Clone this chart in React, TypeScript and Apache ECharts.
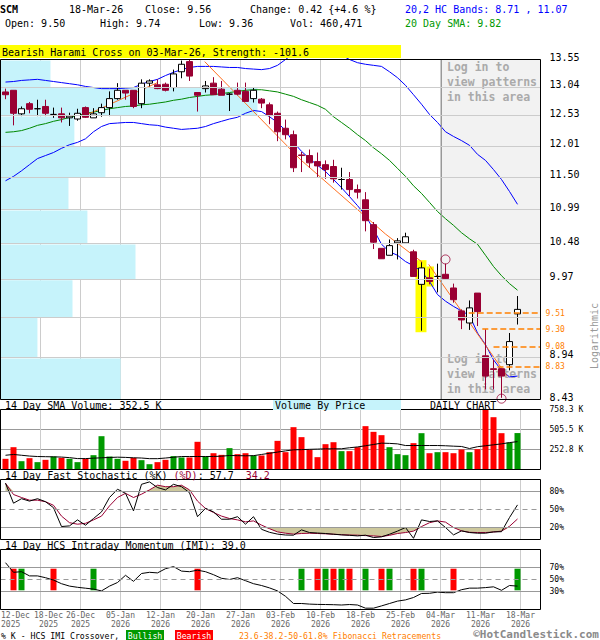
import React, { useEffect, useRef } from "react";
import * as echarts from "echarts";

const MONO = "'DejaVu Sans Mono', monospace";
const CRIMSON = "#990033";
const UP_GREEN = "#009900";
const DOWN_RED = "#ff0000";
const ORANGE = "#ff8000";
const TAN = "#cdc89c";
const CYAN = "#c6f3fb";

const ticker = "SCM";

const dates = [
  "12-Dec-2025", "15-Dec-2025", "16-Dec-2025", "17-Dec-2025", "18-Dec-2025", "19-Dec-2025", "22-Dec-2025", "23-Dec-2025", "24-Dec-2025", "26-Dec-2025",
  "29-Dec-2025", "30-Dec-2025", "31-Dec-2025", "02-Jan-2026", "05-Jan-2026", "06-Jan-2026", "07-Jan-2026", "08-Jan-2026", "09-Jan-2026", "12-Jan-2026",
  "13-Jan-2026", "14-Jan-2026", "15-Jan-2026", "16-Jan-2026", "20-Jan-2026", "21-Jan-2026", "22-Jan-2026", "23-Jan-2026", "26-Jan-2026", "27-Jan-2026",
  "28-Jan-2026", "29-Jan-2026", "30-Jan-2026", "02-Feb-2026", "03-Feb-2026", "04-Feb-2026", "05-Feb-2026", "06-Feb-2026", "09-Feb-2026", "10-Feb-2026",
  "11-Feb-2026", "12-Feb-2026", "13-Feb-2026", "17-Feb-2026", "18-Feb-2026", "19-Feb-2026", "20-Feb-2026", "23-Feb-2026", "24-Feb-2026", "25-Feb-2026",
  "26-Feb-2026", "27-Feb-2026", "02-Mar-2026", "03-Mar-2026", "04-Mar-2026", "05-Mar-2026", "06-Mar-2026", "09-Mar-2026", "10-Mar-2026", "11-Mar-2026",
  "12-Mar-2026", "13-Mar-2026", "16-Mar-2026", "17-Mar-2026", "18-Mar-2026",
];

const opens = [
  12.95, 12.98, 12.56, 12.74, 12.65, 12.69, 12.55, 12.56, 12.49, 12.47,
  12.67, 12.49, 12.58, 12.67, 12.83, 12.98, 12.98, 12.74, 13.11, 13.08,
  13.09, 13.03, 13.32, 13.51, 12.94, 13.01, 13.11, 13.0, 12.91, 12.98,
  12.96, 12.83, 12.82, 12.72, 12.57, 12.31, 12.2, 11.86, 11.85, 11.75,
  11.7, 11.67, 11.46, 11.46, 11.3, 11.14, 10.76, 10.41, 10.31, 10.49,
  10.49, 10.36, 9.9, 9.99, 10.01, 10.04, 9.85, 9.54, 9.38, 9.78,
  8.96, 8.8, 8.8, 8.85, 9.5,
];
const highs = [
  13.01, 12.98, 12.69, 12.77, 12.81, 12.81, 12.67, 12.67, 12.58, 12.65,
  12.69, 12.66, 12.74, 12.96, 13.11, 12.98, 12.98, 13.18, 13.18, 13.18,
  13.12, 13.36, 13.53, 13.55, 12.94, 13.15, 13.22, 13.15, 12.93, 13.12,
  13.12, 13.03, 12.84, 12.76, 12.6, 12.46, 12.27, 11.91, 11.95, 11.9,
  11.77, 11.78, 11.65, 11.58, 11.38, 11.26, 10.8, 10.41, 10.54, 10.56,
  10.64, 10.39, 10.21, 10.12, 10.19, 10.19, 9.91, 9.56, 9.68, 9.78,
  9.3, 8.91, 8.8, 9.25, 9.74,
];
const lows = [
  12.82, 12.36, 12.52, 12.57, 12.52, 12.52, 12.49, 12.41, 12.35, 12.44,
  12.49, 12.49, 12.51, 12.52, 12.81, 12.81, 12.66, 12.66, 13.05, 13.0,
  12.96, 12.96, 13.2, 13.15, 12.6, 12.94, 12.9, 12.89, 12.61, 12.89,
  12.78, 12.76, 12.66, 12.38, 12.09, 12.12, 11.58, 11.58, 11.65, 11.5,
  11.47, 11.41, 11.3, 11.2, 11.16, 10.66, 10.4, 10.26, 10.31, 10.25,
  10.49, 10.01, 9.28, 9.9, 9.79, 9.97, 9.65, 9.3, 9.29, 9.34,
  8.55, 8.55, 8.45, 8.78, 9.36,
];
const closes = [
  12.9, 12.57, 12.65, 12.64, 12.65, 12.57, 12.55, 12.49, 12.52, 12.57,
  12.5, 12.56, 12.67, 12.83, 12.98, 12.93, 12.69, 13.11, 13.15, 13.01,
  12.98, 13.28, 13.46, 13.24, 12.89, 13.06, 12.9, 12.89, 12.91, 12.91,
  12.78, 12.98, 12.75, 12.53, 12.25, 12.2, 11.65, 11.85, 11.73, 11.68,
  11.62, 11.47, 11.46, 11.3, 11.26, 10.82, 10.5, 10.26, 10.45, 10.52,
  10.58, 10.01, 10.13, 9.94, 10.01, 9.98, 9.69, 9.42, 9.58, 9.53,
  8.71, 8.79, 8.71, 9.14, 9.56,
];

// daily volume, thousands of shares
const volumes = [
  135, 282, 105, 143, 93, 122, 164, 147, 135, 93,
  135, 181, 421, 164, 135, 110, 147, 118, 67, 93,
  122, 169, 152, 152, 350, 164, 206, 185, 270, 194,
  206, 177, 177, 219, 362, 219, 535, 409, 249, 156,
  320, 345, 232, 232, 282, 548, 476, 434, 282, 194,
  181, 333, 459, 206, 219, 219, 206, 253, 219, 257,
  754, 661, 459, 341, 460.471,
];
const volumeSma14 = [
  180, 190, 180, 170, 164, 162, 160, 157, 150, 138,
  138, 143, 148, 152, 156, 153, 148, 145, 137, 137,
  145, 155, 164, 164, 164, 164, 165, 168, 177, 175,
  173, 175, 190, 205, 220, 235, 249, 251, 255, 258,
  261, 261, 262, 275, 285, 300, 316, 333, 330, 324,
  303, 303, 303, 303, 303, 300, 295, 291, 265, 288,
  300, 312, 324, 340, 352.5,
];

const upperBand = [
  13.13, 13.14, 13.16, 13.17, 13.18, 13.16, 13.14, 13.12, 13.1, 13.08,
  13.05, 13.03, 13.01, 13.01, 13.01, 13.02, 13.03, 13.09, 13.14, 13.18,
  13.25, 13.31, 13.36, 13.4, 13.42, 13.42, 13.42, 13.41, 13.4, 13.4,
  13.38, 13.37, 13.36, 13.38, 13.44, 13.55, 13.66, 13.74, 13.78, 13.78,
  13.76, 13.7, 13.63, 13.55, 13.49, 13.46, 13.44, 13.42, 13.32, 13.21,
  13.07, 12.9, 12.73, 12.55, 12.41, 12.25, 12.17, 12.1, 12.02, 11.87,
  11.77, 11.62, 11.46, 11.27, 11.07,
];
const lowerBand = [
  11.44, 11.51, 11.6, 11.7, 11.8, 11.85, 11.9, 11.97, 12.03, 12.07,
  12.13, 12.25, 12.34, 12.39, 12.4, 12.41, 12.41, 12.39, 12.37, 12.36,
  12.33, 12.31, 12.29, 12.3, 12.31, 12.34, 12.39, 12.43, 12.47, 12.5,
  12.57, 12.62, 12.6, 12.51, 12.41, 12.27, 12.07, 11.92, 11.8, 11.69,
  11.59, 11.46, 11.33, 11.19, 11.05, 10.9, 10.69, 10.47, 10.36, 10.31,
  10.22, 10.16, 10.08, 9.94, 9.76, 9.67, 9.6, 9.54, 9.48, 9.25,
  9.1, 8.91, 8.78, 8.7, 8.71,
];
const sma20 = [
  12.24, 12.25, 12.27, 12.31, 12.36, 12.39, 12.43, 12.46, 12.5, 12.53,
  12.57, 12.59, 12.62, 12.65, 12.67, 12.69, 12.7, 12.72, 12.73, 12.75,
  12.77, 12.8, 12.82, 12.85, 12.87, 12.89, 12.9, 12.92, 12.94, 12.96,
  12.98, 12.99, 12.99, 12.97, 12.95, 12.91, 12.87, 12.81, 12.76, 12.71,
  12.64, 12.51, 12.41, 12.31, 12.2, 12.1, 11.98, 11.88, 11.77, 11.64,
  11.51, 11.36, 11.24, 11.1, 10.96, 10.85, 10.75, 10.64, 10.55, 10.47,
  10.31, 10.15, 10.02, 9.91, 9.82,
];

const stochK = [
  93.8, 60.5, 68, 64, 68, 63, 53, 21.6, 22.7, 32.7,
  23.8, 35, 46, 70, 83.8, 77, 47.7, 92, 96, 86.6,
  82.7, 92, 88, 78, 38, 52, 46, 33.8, 33.8, 38,
  25.5, 38, 17, 12, 9, 7.5, 7.2, 16, 11.6, 10.8,
  10, 8.8, 7.7, 7, 6, 7.2, 3.3, 4.4, 8.8, 14,
  20, 2, 32.7, 30, 31, 20, 7.7, 14.4, 11.6, 10.5,
  10.5, 12.7, 13, 36.6, 57.7,
];
const stochD = [
  93.8, 75, 70, 65.5, 65.5, 63, 57, 39, 28, 25.5,
  27, 32.7, 39, 56, 70, 77, 70, 75.5, 82.7, 90.5,
  88, 88, 90.5, 82.7, 64, 51.6, 45, 39, 35, 32.7,
  29.4, 31, 24, 18, 12.7, 10.5, 9, 10, 10.5, 10,
  9.5, 8.8, 8, 7.5, 7.2, 6.5, 6, 5, 7, 10,
  11.6, 14, 21.6, 28, 31, 29, 20, 14.4, 12, 11.6,
  11.6, 12.5, 14, 22, 34.2,
];
const imi = [
  78, 62, 63, 56, 56, 53, 49, 43, 39, 37,
  35.5, 34, 31, 39, 45, 57, 47, 60, 62, 61,
  68, 71.5, 64, 63, 65.5, 63, 58, 52, 50, 53,
  48, 43, 40, 36, 31, 22, 10, 10, 9, 8.5,
  8.3, 8, 7.5, 8.3, 7.5, 2.2, 2.2, 6, 10, 14,
  16, 20, 26.7, 27, 29, 28, 28, 33, 35.6, 35.6,
  36.5, 37.8, 32, 40, 39,
];
const imiBullishCross = [2, 11, 37, 40, 42, 45, 48, 52, 64];
const imiBearishCross = [1, 6, 24, 39, 41, 43, 47, 51, 56];

const priceTicks = [13.55, 13.04, 12.53, 12.01, 11.5, 10.99, 10.48, 9.97, 9.46, 8.94, 8.43];
const hiddenPriceTickLabels = [9.46];
const fibLevels = [9.51, 9.3, 9.08, 8.83];
const fibStartDay = [57.9, 59.6, 61.0, 61.5];
const vbpEdges = [13.55, 13.04, 12.53, 12.01, 11.5, 10.99, 10.48, 9.97, 9.46, 8.94, 8.43];
const vbpVolume = [805, 4140, 1190, 1690, 1095, 1400, 2175, 1160, 595, 1935];
const trendUp = [[9.8, 12.52], [19, 13.12]];
const trendDown1 = [[24.9, 13.51], [36.9, 11.78], [47.5, 10.62], [52.1, 10.21]];
const trendDown2 = [[52.9, 10.18], [62.7, 8.71]];
const patternMarkers = [[55, 10.25], [62, 8.44]];
const haramiBoxes = [
  { from: 51.25, to: 52.62, high: 10.24, low: 9.26 },
  { from: 52.62, to: 53.55, high: 10.15, low: 9.87 },
];
const patternZoneStartDay = 54.5;

const X = (i: number) => i + 0.625;
const X_MAX = 67.5;
const N = closes.length;
const last = N - 1;

function txt(text: string, x: number, y: number, o: any = {}) {
  return {
    type: "text",
    x,
    y,
    z: o.z ?? 10,
    rotation: o.rotation ?? 0,
    style: {
      text,
      fill: o.fill ?? "#000",
      fontSize: o.size ?? 10,
      fontFamily: MONO,
      fontWeight: o.weight ?? "normal",
      align: o.align ?? "left",
      verticalAlign: "middle",
      lineHeight: o.lineHeight,
      rich: o.rich,
    },
  };
}

function buildOption(): any {
  const xBase = (gridIndex: number) => ({
    type: "value",
    gridIndex,
    min: 0,
    max: X_MAX,
    interval: 5,
    z: 1,
    axisLine: { show: false },
    axisTick: { show: false },
    axisLabel: { show: false },
    splitLine: { show: true, lineStyle: { color: "#cccccc", width: 1 } },
  });
  const gridBase = { show: true, borderColor: "#000", borderWidth: 1, z: 6, left: 0.5, width: 540 };

  const helper = (xi: number, yi: number, extra: any) => ({
    type: "line",
    xAxisIndex: xi,
    yAxisIndex: yi,
    data: [],
    showSymbol: false,
    silent: true,
    clip: false,
    lineStyle: { opacity: 0 },
    ...extra,
  });

  const hLines = (values: number[], dashedAt: number | null, xi: number, yi: number) =>
    helper(xi, yi, {
      z: 1,
      markLine: {
        silent: true,
        symbol: ["none", "none"],
        animation: false,
        label: {
          show: true,
          position: "end",
          distance: 9,
          color: "#000",
          fontSize: 8,
          fontFamily: MONO,
          formatter: (p: any) => `${p.value}%`,
        },
        data: values.map((v) => ({
          yAxis: v,
          lineStyle: { color: "#999999", width: 1, type: v === dashedAt ? [5, 4] : "solid" },
        })),
      },
    });

  const candleData = opens.map((o, i) => {
    const v = [X(i), o, closes[i], lows[i], highs[i]];
    if (o === closes[i]) {
      return { value: v, itemStyle: { color: "#000", color0: "#000", borderColor: "#000", borderColor0: "#000" } };
    }
    return v;
  });

  const lineSeries = (data: number[], color: string, extra: any = {}) => ({
    type: "line",
    xAxisIndex: 0,
    yAxisIndex: 0,
    data: data.map((v, i) => [X(i), v]),
    showSymbol: false,
    symbol: "none",
    silent: true,
    lineStyle: { color, width: 1 },
    z: 3,
    ...extra,
  });

  const trend = (pts: number[][]) => ({
    type: "line",
    xAxisIndex: 0,
    yAxisIndex: 0,
    data: pts.map((p) => [X(p[0]), p[1]]),
    showSymbol: false,
    symbol: "none",
    silent: true,
    lineStyle: { color: "#ff7020", width: 1 },
    z: 3.1,
  });

  const vbpMax = 8700;
  const DATE_GRAY = "#666666";
  const DATE_SIZE = 8;

  const dateLabel = (v: number) => {
    const r = Math.round(v);
    if (Math.abs(v - r) > 1e-6 || r % 5 !== 0 || r === 0) return "";
    const i = r - 1;
    const d = dates[i];
    if (!d) return "";
    // the second label is nudged right so that it clears the first one
    if (r === 5) return `{n|${d.slice(0, 6)}}\n{n|${d.slice(7)}}`;
    return `${d.slice(0, 6)}\n${d.slice(7)}`;
  };

  const change = closes[last] - closes[last - 1];
  const pct = (change / closes[last - 1]) * 100;
  const shortDate = dates[last].slice(0, 7) + dates[last].slice(9);

  const graphic: any[] = [
    txt(ticker, 0, 9, { weight: "bold" }),
    txt(shortDate, 69, 9),
    txt(`Close: ${closes[last].toFixed(2)}`, 145, 9),
    txt(`Change: ${change.toFixed(2)} {+${pct.toFixed(1)} %}`, 250, 9),
    txt(`20,2 HC Bands: ${lowerBand[last].toFixed(2)} , ${upperBand[last].toFixed(2)}`, 405, 9, { fill: "#0000ff" }),
    txt(`Open: ${opens[last].toFixed(2)}`, 5, 23),
    txt(`High: ${highs[last].toFixed(2)}`, 100, 23),
    txt(`Low: ${lows[last].toFixed(2)}`, 199, 23),
    txt(`Vol: ${Math.round(volumes[last] * 1000).toLocaleString("en-US")}`, 290, 23),
    txt(`20 Day SMA: ${sma20[last].toFixed(2)}`, 405, 23, { fill: UP_GREEN }),
    { type: "rect", z: 9, shape: { x: 0, y: 45, width: 401, height: 13 }, style: { fill: "#ffff00" } },
    txt("Bearish Harami Cross on 03-Mar-26, Strength: -101.6", 2, 52, {}),
    // pattern zone notes
    txt("Log in to", 447, 67, { fill: "#aaaaaa", weight: "bold", size: 11.5, z: 2.5 }),
    txt("view patterns", 447, 82, { fill: "#aaaaaa", weight: "bold", size: 11.5, z: 2.5 }),
    txt("in this area", 447, 97, { fill: "#aaaaaa", weight: "bold", size: 11.5, z: 2.5 }),
    txt("Log in to", 447, 359, { fill: "#aaaaaa", weight: "bold", size: 11.5, z: 2.5 }),
    txt("view patterns", 447, 374, { fill: "#aaaaaa", weight: "bold", size: 11.5, z: 2.5 }),
    txt("in this area", 447, 389, { fill: "#aaaaaa", weight: "bold", size: 11.5, z: 2.5 }),
    txt("Logarithmic", 594, 336, { fill: "#999999", align: "center", rotation: Math.PI / 2 }),
    // panel captions
    txt(`14 Day SMA Volume: ${volumeSma14[last].toFixed(1)} K`, 5, 405),
    { type: "rect", z: 9, shape: { x: 273, y: 400, width: 128, height: 10 }, style: { fill: CYAN } },
    txt("Volume By Price", 275, 405),
    txt("DAILY CHART", 430, 405),
    txt(`14 Day Fast Stochastic (%K) {d|(%D)}: ${stochK[last].toFixed(1)}  {d|${stochD[last].toFixed(1)}}`, 5, 475, {
      rich: { d: { fill: CRIMSON, color: CRIMSON, fontSize: 10, fontFamily: MONO } },
    }),
    txt(`14 Day HCS Intraday Momentum (IMI): ${imi[last].toFixed(1)}`, 5, 545),
    // first date label (left aligned at the panel edge)
    txt(`${dates[0].slice(0, 6)}\n${dates[0].slice(7)}`, 1, 620, { fill: DATE_GRAY, size: DATE_SIZE, lineHeight: 9 }),
    // footer legend
    txt("% K - HCS IMI Crossover,", 1, 635.5, { size: 8.2, lineHeight: 9 }),
    { type: "rect", z: 9, shape: { x: 126, y: 630, width: 38, height: 10 }, style: { fill: UP_GREEN } },
    txt("Bullish", 145, 635.5, { fill: "#fff", size: 8.2, align: "center", lineHeight: 9 }),
    { type: "rect", z: 9, shape: { x: 175, y: 630, width: 38, height: 10 }, style: { fill: DOWN_RED } },
    txt("Bearish", 194, 635.5, { fill: "#fff", size: 8.2, align: "center", lineHeight: 9 }),
    txt("23.6-38.2-50-61.8% Fibonacci Retracements", 239, 635.5, { fill: ORANGE, size: 8.2, lineHeight: 9 }),
    txt("\u00a9HotCandlestick.com", 599, 634, { fill: "#8a8a8a", size: 11, weight: "bold", align: "right", lineHeight: 9 }),
  ];

  return {
    animation: false,
    backgroundColor: "#fff",
    grid: [
      { ...gridBase, top: 59.5, height: 340 },
      { ...gridBase, top: 409.5, height: 60 },
      { ...gridBase, top: 479.5, height: 60 },
      { ...gridBase, top: 549.5, height: 60 },
    ],
    xAxis: [
      xBase(0),
      { type: "value", gridIndex: 0, min: 0, max: vbpMax, show: false },
      xBase(1),
      xBase(2),
      {
        ...xBase(3),
        axisLabel: {
          show: true,
          formatter: dateLabel,
          color: DATE_GRAY,
          fontSize: DATE_SIZE,
          lineHeight: 9,
          fontFamily: MONO,
          margin: 1.5,
          showMinLabel: false,
          showMaxLabel: false,
          hideOverlap: false,
          rich: {
            n: { color: DATE_GRAY, fontSize: DATE_SIZE, fontFamily: MONO, lineHeight: 9, padding: [0, 0, 0, 16] },
          },
        },
      },
    ],
    yAxis: [
      {
        type: "log",
        gridIndex: 0,
        logBase: 10,
        min: vbpEdges[vbpEdges.length - 1],
        max: vbpEdges[0],
        axisLine: { show: false },
        axisTick: { show: false },
        axisLabel: { show: false },
        splitLine: { show: false },
      },
      {
        type: "value",
        gridIndex: 1,
        min: 0,
        max: 758.3,
        interval: 758.3 / 3,
        position: "right",
        z: 1,
        axisLine: { show: false },
        axisTick: { show: false },
        splitLine: { show: true, lineStyle: { color: "#999999" } },
        axisLabel: {
          showMinLabel: false,
          margin: 9,
          fontSize: 8,
          color: "#000",
          fontFamily: MONO,
          formatter: (v: number) => `${v.toFixed(1)} K`,
        },
      },
      { type: "value", gridIndex: 2, min: 0, max: 100, axisLine: { show: false }, axisTick: { show: false }, axisLabel: { show: false }, splitLine: { show: false } },
      { type: "value", gridIndex: 3, min: 0, max: 100, axisLine: { show: false }, axisTick: { show: false }, axisLabel: { show: false }, splitLine: { show: false } },
    ],
    graphic,
    series: [
      // pattern zone shading
      helper(0, 0, {
        z: 0,
        markArea: {
          silent: true,
          itemStyle: { color: "#f2f2f2" },
          data: [[{ xAxis: X(patternZoneStartDay) }, { xAxis: X_MAX }]],
        },
        markLine: {
          silent: true,
          symbol: ["none", "none"],
          label: { show: false },
          lineStyle: { color: "#999999", type: "solid", width: 1 },
          data: [{ xAxis: X(patternZoneStartDay) }],
        },
      }),
      // price grid lines + labels
      helper(0, 0, {
        z: 1,
        markLine: {
          silent: true,
          symbol: ["none", "none"],
          lineStyle: { color: "#cccccc", type: "solid", width: 1 },
          label: {
            show: true,
            position: "end",
            distance: 9,
            color: "#000",
            fontSize: 10,
            lineHeight: 5,
            verticalAlign: "bottom",
            fontFamily: MONO,
            formatter: (p: any) => Number(p.value).toFixed(2),
          },
          data: priceTicks.map((v) => ({
            yAxis: v,
            label: { show: !hiddenPriceTickLabels.includes(v) },
          })),
        },
      }),
      // volume by price
      {
        type: "custom",
        xAxisIndex: 1,
        yAxisIndex: 0,
        z: 2,
        silent: true,
        clip: true,
        data: vbpVolume.map((v, k) => [vbpEdges[k + 1], vbpEdges[k], v]),
        renderItem: (_p: any, api: any) => {
          const lo = api.value(0);
          const hi = api.value(1);
          const vol = api.value(2);
          const a = api.coord([0, hi]);
          const b = api.coord([vol, lo]);
          return {
            type: "rect",
            shape: { x: a[0], y: a[1] + 1, width: b[0] - a[0], height: b[1] - a[1] - 1 },
            style: { fill: CYAN },
          };
        },
      },
      // harami highlight
      helper(0, 0, {
        z: 2.6,
        markArea: {
          silent: true,
          itemStyle: { color: "#ffff00" },
          data: haramiBoxes.map((b) => [
            { coord: [X(b.from), b.high] },
            { coord: [X(b.to), b.low] },
          ]),
        },
      }),
      // fibonacci retracements
      helper(0, 0, {
        z: 2.7,
        markLine: {
          silent: true,
          symbol: ["none", "none"],
          lineStyle: { color: ORANGE, type: [6, 3], width: 1.5 },
          label: {
            show: true,
            position: "end",
            distance: 5,
            color: ORANGE,
            fontSize: 8,
            lineHeight: 8,
            fontFamily: MONO,
            formatter: (p: any) => p.name,
          },
          data: fibLevels.map((v, k) => [
            { coord: [X(fibStartDay[k]), v], name: v.toFixed(2) },
            { coord: [X_MAX, v], name: v.toFixed(2) },
          ]),
        },
      }),
      lineSeries(sma20, "#008800"),
      lineSeries(upperBand, "#0000ff", { clip: false }),
      lineSeries(lowerBand, "#0000ff"),
      trend(trendUp),
      trend(trendDown1),
      trend(trendDown2),
      {
        type: "candlestick",
        xAxisIndex: 0,
        yAxisIndex: 0,
        barWidth: 6,
        z: 4,
        silent: true,
        itemStyle: { color: "#ffffff", color0: CRIMSON, borderColor: "#000000", borderColor0: CRIMSON, borderWidth: 1 },
        data: candleData,
      },
      {
        type: "scatter",
        xAxisIndex: 0,
        yAxisIndex: 0,
        z: 5,
        clip: false,
        silent: true,
        symbol: "circle",
        symbolSize: 9,
        itemStyle: { color: "rgba(0,0,0,0)", borderColor: CRIMSON, borderWidth: 1 },
        data: patternMarkers.map((m) => [X(m[0]), m[1]]),
      },
      // volume panel
      {
        type: "bar",
        xAxisIndex: 2,
        yAxisIndex: 1,
        barWidth: 6,
        z: 2,
        silent: true,
        data: volumes.map((v, i) => ({
          value: [X(i), v],
          itemStyle: { color: closes[i] >= opens[i] ? UP_GREEN : DOWN_RED },
        })),
      },
      {
        type: "line",
        xAxisIndex: 2,
        yAxisIndex: 1,
        z: 3,
        symbol: "none",
        showSymbol: false,
        silent: true,
        lineStyle: { color: "#000", width: 1 },
        data: volumeSma14.map((v, i) => [X(i), v]),
      },
      // stochastic panel
      hLines([80, 50, 20], 50, 3, 2),
      {
        type: "line",
        xAxisIndex: 3,
        yAxisIndex: 2,
        z: 1.5,
        symbol: "none",
        showSymbol: false,
        silent: true,
        lineStyle: { width: 0, opacity: 0 },
        areaStyle: { color: TAN, opacity: 1, origin: 20 },
        data: stochD.map((v, i) => [X(i), Math.min(v, 20)]),
      },
      {
        type: "line",
        xAxisIndex: 3,
        yAxisIndex: 2,
        z: 1.5,
        symbol: "none",
        showSymbol: false,
        silent: true,
        lineStyle: { width: 0, opacity: 0 },
        areaStyle: { color: TAN, opacity: 1, origin: 80 },
        data: stochD.map((v, i) => [X(i), Math.max(v, 80)]),
      },
      {
        type: "line",
        xAxisIndex: 3,
        yAxisIndex: 2,
        z: 3,
        symbol: "none",
        showSymbol: false,
        silent: true,
        lineStyle: { color: CRIMSON, width: 1 },
        data: stochD.map((v, i) => [X(i), v]),
      },
      {
        type: "line",
        xAxisIndex: 3,
        yAxisIndex: 2,
        z: 3.1,
        symbol: "none",
        showSymbol: false,
        silent: true,
        lineStyle: { color: "#000", width: 1 },
        data: stochK.map((v, i) => [X(i), v]),
      },
      // IMI panel
      hLines([70, 50, 30], 50, 4, 3),
      {
        type: "custom",
        xAxisIndex: 4,
        yAxisIndex: 3,
        z: 2,
        silent: true,
        data: [
          ...imiBullishCross.map((i) => [X(i), 32, 68, 1]),
          ...imiBearishCross.map((i) => [X(i), 32, 68, 0]),
        ],
        renderItem: (_p: any, api: any) => {
          const top = api.coord([api.value(0), api.value(2)]);
          const bot = api.coord([api.value(0), api.value(1)]);
          return {
            type: "rect",
            shape: { x: top[0] - 3, y: top[1], width: 6, height: bot[1] - top[1] },
            style: { fill: api.value(3) === 1 ? UP_GREEN : DOWN_RED },
          };
        },
      },
      {
        type: "line",
        xAxisIndex: 4,
        yAxisIndex: 3,
        z: 3,
        symbol: "none",
        showSymbol: false,
        silent: true,
        lineStyle: { color: "#000", width: 1 },
        data: imi.map((v, i) => [X(i), v]),
      },
    ],
  };
}

export default function App() {
  const ref = useRef<HTMLDivElement>(null);
  useEffect(() => {
    if (!ref.current) return;
    const chart = echarts.init(ref.current, undefined, { renderer: "svg", width: 600, height: 640 });
    chart.setOption(buildOption());
    return () => chart.dispose();
  }, []);
  return (
    <div
      ref={ref}
      style={{ position: "absolute", left: 0, top: 0, width: 600, height: 640, background: "#fff" }}
    />
  );
}
